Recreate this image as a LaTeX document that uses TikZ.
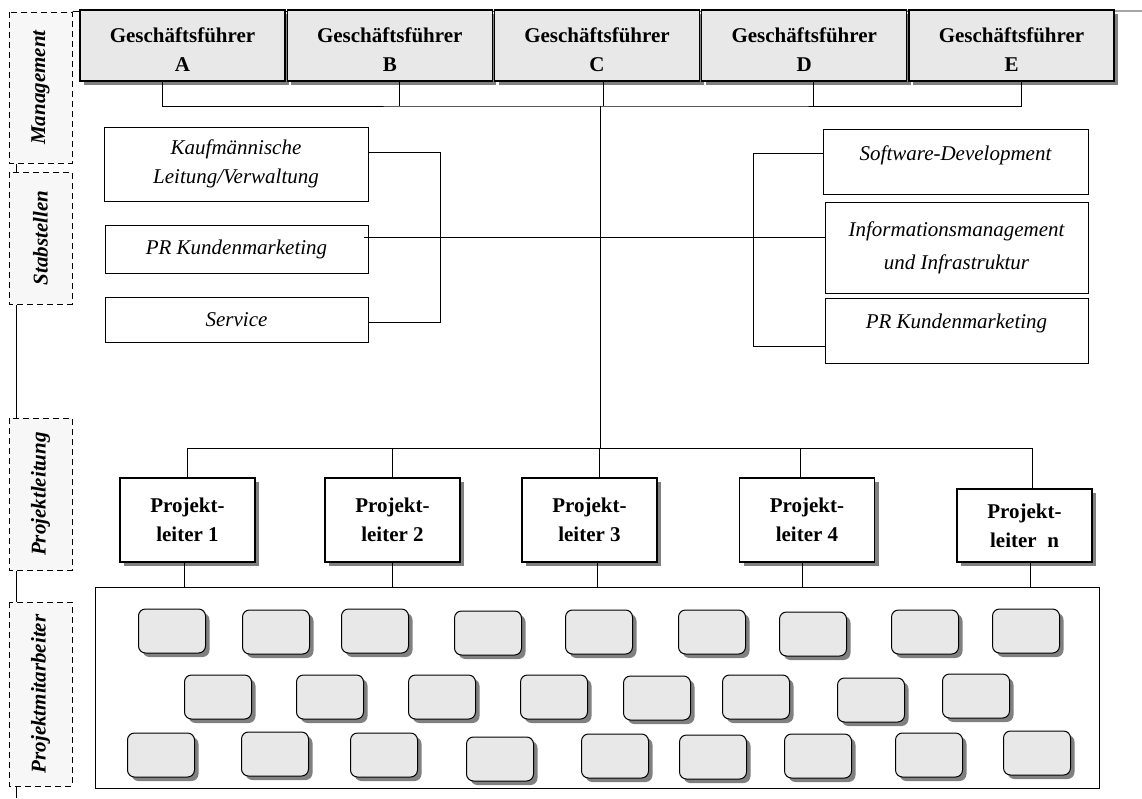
\documentclass[tikz,border=0pt]{standalone}
\usepackage{fontspec}
\setmainfont{Liberation Serif}
\usetikzlibrary{shadows}
\definecolor{kasten}{RGB}{232,232,232}
\definecolor{ebenegrau}{RGB}{247,247,247}
\definecolor{schattengrau}{RGB}{128,128,128}
\newcommand{\gross}{\fontsize{21}{29}\selectfont}

\begin{document}
\begin{tikzpicture}[x=1pt,y=-1pt,
  mitschatten/.style={drop shadow={shadow xshift=4pt,shadow yshift=-4pt,fill=schattengrau,opacity=1}},
  linie/.style={line width=0.8pt},
  ebene/.style={draw,dash pattern=on 6pt off 4pt,line width=1pt,fill=ebenegrau,minimum height=63,inner sep=0,rotate=90,font=\gross\bfseries\itshape},
  gf/.style={draw,line width=1.2pt,fill=kasten,minimum width=205,minimum height=71,inner sep=0,align=center,font=\gross\bfseries,text height=52pt,mitschatten},
  stab/.style={draw,line width=1pt,fill=white,inner sep=0,align=center,font=\gross\itshape},
  plbox/.style={draw,line width=1.2pt,fill=white,minimum width=135,minimum height=84,inner sep=0,align=center,font=\gross\bfseries,mitschatten},
  mitarb/.style={draw,line width=1pt,fill=kasten,rounded corners=7pt,minimum width=67,minimum height=44,inner sep=0,mitschatten}]
\path[use as bounding box,fill=white] (0,0) rectangle (1142,798);

% Ebenen
\node[ebene,minimum width=151] (lmgmt) at (40.5,87.5) {Management};
\node[ebene,minimum width=132] (lstab) at (40.5,238) {Stabstellen};
\node[ebene,minimum width=152] (lpl) at (40.5,494) {Projektleitung};
\node[ebene,minimum width=184] (lpma) at (40.5,694) {Projektmitarbeiter};
\coordinate (lx) at (16,0);
\coordinate (unten) at (16,798);
\coordinate (rechts) at (1142,11);
\draw[linie] (lmgmt.west -| lx) -- (lstab.east -| lx);
\draw[linie] (lstab.west -| lx) -- (lpl.east -| lx);
\draw[linie] (lpl.west -| lx) -- (lpma.east -| lx);
\draw[linie] (lpma.west -| lx) -- (unten);
\draw[linie] (lmgmt.south east) -- (rechts);

% Geschaeftsfuehrung
\foreach \n/\x in {A/182.5,B/389.75,C/597,D/804.25,E/1011.5}
  \node[gf] (gf\n) at (\x,45.5) {Geschäftsführer\\\n};
\coordinate (gfbus) at (600,106);
\coordinate (plbus) at (600,448);
\draw[linie] ([xshift=-20]gfA.south) |- (gfbus) -| ([xshift=10]gfE.south);
\foreach \n/\s in {B/10,C/6,D/9}
  \draw[linie] ([xshift=\s]gf\n.south) -- ([xshift=\s]gf\n.south |- gfbus);
\draw[linie] (gfbus) -- (plbus);

% Stabstellen
\node[stab,minimum width=264,minimum height=74] (kfm) at (236,164) {Kaufmännische\\Leitung/Verwaltung};
\node[stab,minimum width=263,minimum height=48] (prl) at (236.5,249) {PR Kundenmarketing};
\node[stab,minimum width=263,minimum height=45] (svc) at (236.5,319.5) {Service};
\node[stab,minimum width=265,minimum height=65,label={[font=\gross\itshape,yshift=6]center:Software-Development}] (sd) at (955.5,161.5) {};
\node[stab,minimum width=263,minimum height=91] (info) at (956.5,247.5) {Informationsmanagement\\[4pt]und Infrastruktur};
\node[stab,minimum width=263,minimum height=65,label={[font=\gross\itshape,yshift=7]center:PR Kundenmarketing}] (prr) at (956.5,330.5) {};
\coordinate (lb) at (440,0);
\coordinate (rb) at (753,0);
\draw[linie] ([yshift=12]kfm.east) -| ([yshift=-2.5]svc.east -| lb) -- ([yshift=-2.5]svc.east);
\draw[linie] ([yshift=8.5]sd.west) -| ([yshift=-15.5]prr.west -| rb) -- ([yshift=-15.5]prr.west);
\draw[linie] ([xshift=-5,yshift=12]prl.east) -- ([yshift=12]prl.east -| info.west);

% Projektleitung
\node[plbox] (pl1) at (187.5,520) {Projekt-\\leiter 1};
\node[plbox] (pl2) at (392.5,520) {Projekt-\\leiter 2};
\node[plbox] (pl3) at (589.5,520) {Projekt-\\leiter 3};
\node[plbox] (pl4) at (807,520) {Projekt-\\leiter 4};
\node[plbox,minimum height=73] (pln) at (1024.5,525.5) {Projekt-\\leiter\ \ n};
\node[draw,line width=1pt,minimum width=1004,minimum height=201,inner sep=0] (team) at (597,687.5) {};
\draw[linie] (pl1.north |- plbus) -- ([xshift=8]pln.north |- plbus);
\foreach \i/\a/\b in {1/0/-3,2/0/0,3/10/8,4/-7/-5,n/8/6}{
  \draw[linie] ([xshift=\a]pl\i.north) -- ([xshift=\a]pl\i.north |- plbus);
  \draw[linie] ([xshift=\b]pl\i.south) -- ([xshift=\b]pl\i.south |- team.north);
}

% Mitarbeiter
\foreach \x/\y [count=\k] in {172/631,276/632,375/631,488/633,599/632,712/632,813/634,925/632,1026/631,
    218/697,330/697,442/697,554/697,657/698,756/697,871/700,976/696,
    161/755,275/754,384/755,500/759,615/756,713/757,818/756,929/755,1037/753}
  \node[mitarb] (m\k) at (\x,\y) {};

\end{tikzpicture}
\end{document}
